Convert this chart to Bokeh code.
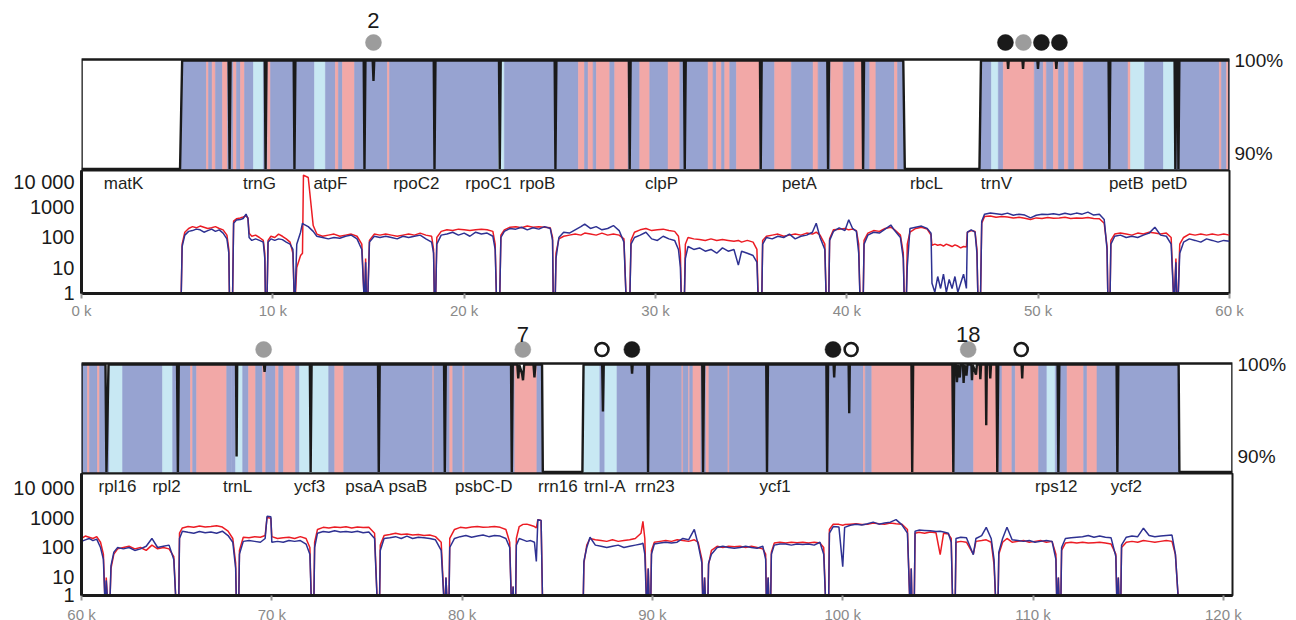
import numpy as np
from bokeh.plotting import figure
from bokeh.layouts import column
from bokeh.models import Range1d, FixedTicker, ColumnDataSource, CustomJSTickFormatter
from bokeh.embed import file_html
from bokeh.resources import INLINE
from bokeh.core.properties import value

FONT = "Liberation Sans"
KIND_COLOR = {"B": "#97a3d1", "L": "#c8e8f3", "P": "#f2a8a7"}
RED = "#ec1c24"
NAVY = "#2e3192"
INK = "#1a1a1a"
GREY_DOT = "#9c9c9c"

# ---------------- top row (0 - 60 kb) ----------------
top_genes = ["matK", "trnG", "atpF", "rpoC2", "rpoC1", "rpoB", "clpP", "petA", "rbcL", "trnV", "petB", "petD"]
top_gene_x = [2200, 9300, 13010, 17500, 21270, 23830, 30310, 37520, 44160, 47820, 54610, 56860]

top_dot_x = [15260, 48290, 49230, 50170, 51110]
top_dot_kind = ["gray", "black", "gray", "black", "black"]
top_count_x = [15260]
top_count_text = ["2"]

top_breaks = [5200, 6530, 6640, 6830, 7000, 7370, 7630, 7940, 8100, 8310, 8520, 8990, 9510, 9720, 9880,
              12180, 12750, 13270, 13430, 13640, 14270, 15990, 16100, 21790, 22100, 25970, 26290, 26480,
              26740, 26910, 27610, 27870, 28570, 29180, 29700, 30660, 31270, 32750, 33010, 33180, 33450,
              33620, 33880, 34230, 35450, 36230, 37100, 38240, 38500, 39160, 39810, 40410, 40850, 41200,
              41520, 42490, 42650, 47560, 47920, 48180, 49800, 50270, 50430, 50800, 51060, 51370, 51580,
              51890, 52360, 54700, 54830, 55560, 56550, 57120, 59470, 59580, 59840, 59950, 60000]
top_kinds = ["B", "P", "B", "P", "B", "P", "B", "P", "B", "P", "B", "L", "B", "P", "B",
             "L", "B", "P", "B", "P", "B", "P", "B", "L", "B", "P", "B", "P",
             "B", "P", "B", "P", "B", "P", "B", "P", "B", "P", "B", "P", "B",
             "P", "B", "P", "B", "P", "B", "P", "B", "P", "B", "P", "B", "P",
             "B", "P", "B", "L", "B", "P", "B", "P", "B", "P", "B", "P", "B",
             "P", "B", "P", "L", "B", "L", "B", "P", "B", "P", "B"]

top_ident_x = [0, 5150, 5260, 7690, 7740, 7790, 9580, 9620, 9670, 11090, 11130, 11180, 14750, 14790, 14840,
               15220, 15260, 15300, 18410, 18450, 18500, 21820, 21860, 21910, 24730, 24770, 24820,
               28610, 28650, 28700, 31490, 31530, 31580, 35460, 35500, 35550, 38980, 39020, 39070,
               40810, 40850, 40900, 42950, 43030, 46930, 47010, 48400, 48430, 48460, 49180, 49210, 49240,
               49960, 49990, 50020, 50920, 50950, 50980, 53680, 53720, 53770, 57130, 57170, 57220,
               57290, 57330, 57380, 60000]
top_ident_y = [0, 0, 100, 100, 0, 100, 100, 0, 100, 100, 0, 100, 100, 0, 100,
               100, 97.8, 100, 100, 0, 100, 100, 0, 100, 100, 0, 100,
               100, 0, 100, 100, 0, 100, 100, 0, 100, 100, 0, 100,
               100, 0, 100, 100, 0, 0, 100, 100, 99.1, 100, 100, 99.1, 100,
               100, 99.1, 100, 100, 99.1, 100, 100, 0, 100, 100, 0, 100,
               100, 0, 100, 100]

top_cov_x = [5200, 5260, 5400, 5600, 5800, 6000, 6200, 6400, 6600, 6800, 7000, 7200, 7400, 7600, 7700, 7740,
             7890, 7950, 8100, 8300, 8450, 8600, 8700, 8760, 8900, 9100, 9300, 9500, 9580, 9620,
             9690, 9750, 9900, 10100, 10300, 10500, 10700, 10900, 11050, 11130,
             11150, 11250, 11450, 11550, 11600, 11850, 12110, 12300, 12600, 12900, 13200, 13500, 13800, 14100, 14400, 14650, 14790, 14850, 14900,
             14950, 15050, 15300, 15600, 15900, 16200, 16500, 16800, 17100, 17400, 17700, 18000, 18300, 18400, 18450,
             18500, 18570, 18800, 19100, 19400, 19700, 20000, 20300, 20600, 20900, 21200, 21500, 21620, 21700,
             21850, 21920, 22100, 22400, 22700, 23000, 23300, 23600, 23900, 24200, 24500, 24620, 24660,
             24750, 24800, 24950, 25200, 25500, 25800, 26100, 26300, 26600, 26900, 27200, 27500, 27800, 28100, 28350, 28480,
             28650, 28720, 28900, 29200, 29500, 29800, 30100, 30400, 30700, 31000, 31200, 31300, 31360,
             31500, 31560, 31700, 32000, 32300, 32600, 32900, 33200, 33500, 33800, 34100, 34330, 34500, 34800, 35100, 35300, 35380,
             35550, 35600, 35800, 36100, 36400, 36700, 37000, 37300, 37600, 37900, 38200, 38400, 38600, 38850, 38930,
             39050, 39100, 39300, 39600, 39900, 40100, 40300, 40500, 40620, 40700,
             40850, 40900, 41100, 41400, 41700, 42000, 42300, 42500, 42800, 42950, 43010,
             43100, 43160, 43300, 43600, 43900, 44200, 44400, 44450, 44600, 44750, 44900, 45050, 45200, 45350, 45500, 45650, 45800, 45950, 46100, 46250, 46300, 46500, 46700, 46800, 46860,
             46980, 47050, 47200, 47500, 47800, 48100, 48400, 48700, 49000, 49300, 49600, 49900, 50200, 50500, 50800, 51100, 51400, 51700, 52000, 52300, 52600, 52900, 53200, 53450, 53600, 53650,
             53750, 53800, 54000, 54300, 54600, 54900, 55200, 55500, 55800, 56100, 56400, 56700, 56950, 57100, 57200, 57250,
             57300, 57400, 57600, 57900, 58200, 58500, 58800, 59100, 59400, 59700, 60000]
top_cov_red = [0.5, 60, 150, 200, 230, 210, 240, 220, 200, 210, 230, 200, 180, 120, 40, 0.5,
               0.5, 350, 420, 450, 480, 520, 450, 140, 110, 120, 100, 80, 30, 0.5,
               0.5, 80, 110, 100, 130, 110, 90, 70, 30, 0.5,
               0.5, 10, 25, 30, 12000, 10000, 250, 130, 110, 120, 130, 110, 120, 130, 110, 60, 0.5, 20, 0.5,
               0.5, 80, 130, 120, 130, 120, 110, 120, 130, 120, 140, 120, 110, 40, 0.5,
               0.5, 100, 160, 180, 170, 190, 180, 170, 180, 190, 180, 160, 60, 0.5,
               0.5, 120, 180, 220, 230, 210, 240, 220, 230, 220, 210, 100, 0.5,
               0.5, 30, 90, 110, 120, 130, 120, 140, 130, 120, 140, 120, 130, 120, 90, 0.5,
               0.5, 80, 150, 180, 200, 170, 180, 190, 170, 160, 110, 30, 0.5,
               0.5, 60, 100, 90, 85, 80, 90, 80, 85, 80, 75, 80, 70, 80, 70, 40, 0.5,
               0.5, 80, 110, 120, 130, 110, 120, 130, 120, 140, 130, 150, 120, 60, 0.5,
               0.5, 90, 180, 190, 200, 180, 190, 170, 60, 0.5,
               0.5, 80, 140, 170, 160, 200, 220, 180, 120, 30, 0.5,
               0.5, 60, 150, 200, 220, 190, 120, 55, 60, 55, 58, 52, 60, 55, 50, 57, 52, 45, 50, 48, 150, 170, 160, 40, 0.5,
               0.5, 300, 500, 520, 470, 500, 480, 450, 470, 440, 400, 450, 430, 460, 440, 450, 470, 430, 450, 440, 460, 430, 420, 300, 50, 0.5,
               0.5, 80, 130, 140, 130, 120, 140, 130, 150, 140, 130, 140, 100, 0.5, 20, 0.5,
               0.5, 60, 100, 130, 120, 130, 120, 130, 120, 130, 120]
top_cov_blue = [0.5, 50, 120, 160, 170, 190, 180, 150, 170, 190, 160, 180, 140, 90, 30, 0.5,
                0.5, 300, 380, 400, 430, 600, 420, 100, 80, 90, 80, 70, 20, 0.5,
                0.5, 70, 90, 80, 90, 85, 70, 60, 40, 0.5,
                0.5, 60, 150, 300, 280, 230, 160, 110, 100, 90, 100, 95, 110, 120, 90, 40, 0.5, 15, 0.5,
                0.5, 70, 110, 100, 110, 100, 90, 110, 100, 110, 120, 90, 70, 30, 0.5,
                0.5, 60, 120, 130, 150, 120, 140, 110, 150, 130, 140, 110, 40, 0.5,
                0.5, 100, 160, 200, 190, 220, 180, 210, 190, 230, 200, 80, 0.5,
                0.5, 20, 100, 150, 140, 180, 230, 280, 200, 230, 180, 200, 250, 170, 70, 0.5,
                0.5, 60, 100, 120, 150, 90, 80, 110, 90, 80, 40, 10, 0.5,
                0.5, 20, 50, 40, 45, 35, 40, 30, 45, 35, 40, 12, 35, 30, 25, 15, 0.5,
                0.5, 60, 100, 90, 110, 100, 130, 90, 110, 120, 150, 300, 100, 40, 0.5,
                0.5, 80, 160, 210, 170, 390, 200, 160, 30, 0.5,
                0.5, 60, 120, 150, 140, 190, 260, 170, 100, 20, 0.5,
                0.5, 11, 200, 220, 240, 200, 140, 3, 1.5, 5, 2, 6, 1.5, 4, 2, 5, 1.5, 3, 6, 2, 150, 180, 150, 30, 0.5,
                0.5, 350, 600, 650, 620, 580, 650, 550, 600, 560, 450, 550, 600, 580, 620, 570, 640, 580, 650, 600, 700, 560, 600, 400, 40, 0.5,
                0.5, 60, 110, 120, 100, 110, 100, 120, 140, 220, 120, 110, 60, 0.5, 15, 0.5,
                0.5, 30, 70, 90, 80, 70, 90, 80, 70, 80, 75]

# ---------------- bottom row (60 - 120 kb) ----------------
bot_genes = ["rpl16", "rpl2", "trnL", "ycf3", "psaA", "psaB", "psbC-D", "rrn16", "trnI-A", "rrn23", "ycf1", "rps12", "ycf2"]
bot_gene_x = [61890, 64470, 68200, 71990, 74880, 77150, 81140, 85030, 87500, 90130, 96440, 111220, 114900]

bot_dot_x = [69570, 83190, 87350, 88920, 99490, 100440, 106590, 109380]
bot_dot_kind = ["gray", "gray", "open", "black", "black", "open", "gray", "open"]
bot_count_x = [83190, 106590]
bot_count_text = ["7", "18"]

bot_breaks = [60000, 60316, 60420, 60840, 60950, 61470, 62160, 64260, 64790, 65730, 65840, 66050, 67630,
              67890, 68100, 68470, 68780, 69150, 69520, 69680, 70200, 70360, 70620, 71250, 71460, 72990,
              73310, 73780, 78460, 78520, 79350, 79510, 80040, 80120, 82770, 83930, 86350, 87240, 87500,
              88140, 91550, 91610, 91900, 91960, 92130, 92550, 92820, 92970, 93970, 94030, 101090, 101180,
              101530, 105850, 106880, 108190, 108370, 108890, 109070, 110290, 110730, 111170, 111790,
              112660, 112840, 113360, 117690]
bot_kinds = ["B", "P", "B", "P", "B", "L", "B", "L", "B", "P", "B", "P", "B",
             "B", "L", "B", "P", "B", "P", "B", "P", "B", "P", "B", "L", "B",
             "P", "B", "P", "B", "P", "B", "P", "B", "P", "B", "L", "B", "L",
             "B", "P", "B", "P", "B", "P", "B", "P", "B", "P", "B", "P", "B",
             "P", "B", "P", "B", "P", "B", "P", "B", "L", "B", "P",
             "B", "P", "B"]

bot_ident_x = [60000, 61260, 61310, 61420, 65020, 65065, 65110, 68120, 68150, 68180, 69590, 69620, 69650,
               72000, 72040, 72090, 75580, 75620, 75670, 79050, 79090, 79140, 82570, 82610, 82660,
               82900, 82950, 83000, 83150, 83200, 83260, 83750, 83800, 83850, 84200, 84240, 86320, 86380,
               87360, 87400, 87440, 88900, 88930, 88960, 89730, 89770, 89820, 92620, 92660, 92710,
               95980, 96020, 96070, 99140, 99180, 99230, 99520, 99550, 99580, 100310, 100340, 100370,
               103610, 103650, 103700, 105760, 105810, 105860, 105950, 106000, 106060, 106150, 106200,
               106320, 106350, 106400, 106500, 106550, 106760, 106790, 106830, 107000, 107050, 107200,
               107230, 107270, 107510, 107540, 107570, 107720, 107750, 107790, 108080, 108120, 108170,
               109400, 109430, 109460, 111290, 111330, 111380, 114390, 114430, 114480, 117650, 117690, 120480]
bot_ident_y = [100, 100, 0, 100, 100, 0, 100, 100, 90, 100, 100, 99.2, 100,
               100, 0, 100, 100, 0, 100, 100, 0, 100, 100, 0, 100,
               100, 98.5, 100, 99.0, 98.3, 100, 100, 98.6, 100, 100, 0, 0, 100,
               100, 94.9, 100, 100, 99.0, 100, 100, 0, 100, 100, 0, 100,
               100, 0, 100, 100, 0, 100, 100, 98.6, 100, 100, 94.7, 100,
               100, 0, 100, 100, 0, 100, 100, 98.1, 100, 98.6, 100,
               100, 98.0, 100, 98.8, 100, 100, 98.3, 100, 98.9, 100, 100,
               98.4, 100, 100, 93.4, 100, 100, 98.5, 100, 100, 0, 100,
               100, 98.5, 100, 100, 0, 100, 100, 0, 100, 100, 0, 0]

bot_cov_x = [60000, 60200, 60400, 60600, 60800, 61000, 61150, 61260, 61300, 61420,
             61470, 61550, 61700, 61900, 62200, 62500, 62800, 63100, 63400, 63700, 64000, 64300, 64600, 64850, 65000,
             65100, 65150, 65300, 65600, 65900, 66200, 66500, 66800, 67100, 67400, 67700, 67950, 68100, 68150,
             68250, 68300, 68500, 68800, 69100, 69400, 69650, 69750, 69950, 70000, 70300, 70600, 70900, 71200, 71500, 71800, 72000, 72100,
             72200, 72250, 72400, 72700, 73000, 73300, 73600, 73900, 74200, 74500, 74800, 75100, 75400, 75570,
             75650, 75700, 75900, 76200, 76500, 76800, 77100, 77400, 77700, 78000, 78300, 78600, 78900, 79090, 79150, 79250,
             79300, 79350, 79600, 79900, 80200, 80500, 80800, 81100, 81400, 81700, 82000, 82300, 82500, 82610, 82680, 82720,
             82800, 82850, 83000, 83200, 83400, 83600, 83800, 83900, 83980, 84150, 84240,
             86350, 86400, 86550, 86720, 87000, 87300, 87600, 87900, 88200, 88500, 88800, 89100, 89400, 89500, 89600, 89710, 89780, 89850,
             89900, 89950, 90100, 90400, 90700, 91000, 91300, 91600, 91900, 92200, 92400, 92600, 92660, 92740, 92820,
             92900, 92950, 93100, 93400, 93700, 94000, 94300, 94600, 94900, 95200, 95500, 95800, 95950, 96000, 96080, 96150,
             96200, 96250, 96400, 96700, 97000, 97300, 97600, 97900, 98200, 98500, 98800, 99000, 99130,
             99250, 99300, 99500, 99800, 100000, 100100, 100400, 100700, 101000, 101300, 101600, 101900, 102200, 102500, 102800, 103100, 103400, 103550, 103600, 103650,
             103750, 103800, 104000, 104300, 104600, 104900, 105120, 105300, 105550, 105700, 105790,
             105900, 105950, 106200, 106500, 106860, 107000, 107300, 107540, 107800, 107950, 108070,
             108150, 108200, 108400, 108630, 108900, 109200, 109500, 109800, 110100, 110400, 110700, 111000, 111200, 111260, 111330, 111400,
             111450, 111500, 111700, 112000, 112300, 112600, 112900, 113200, 113500, 113800, 114100, 114350, 114420, 114480, 114550,
             114600, 114650, 114900, 115200, 115500, 115800, 116100, 116400, 116700, 117000, 117300, 117480, 117690]
bot_cov_red = [200, 240, 220, 200, 230, 150, 60, 0.5, 10, 0.5,
               0.5, 20, 60, 90, 100, 110, 90, 100, 80, 120, 90, 100, 90, 50, 0.5,
               0.5, 300, 450, 500, 470, 520, 480, 500, 530, 480, 350, 200, 30, 0.5,
               0.5, 80, 220, 210, 230, 220, 250, 1000, 950, 230, 200, 210, 220, 200, 230, 200, 100, 0.5,
               0.5, 150, 400, 470, 450, 480, 460, 490, 450, 480, 460, 470, 300, 0.5,
               0.5, 120, 250, 270, 300, 270, 280, 260, 270, 250, 260, 230, 150, 0.5, 10, 0.5,
               0.5, 200, 400, 470, 450, 480, 500, 470, 480, 500, 470, 400, 150, 0.5, 5, 0.5,
               0.5, 200, 500, 590, 600, 550, 500, 450, 850, 800, 0.5,
               0.5, 30, 120, 200, 180, 170, 160, 180, 160, 170, 180, 200, 300, 740, 200, 0.5, 20, 0.5,
               0.5, 80, 150, 160, 170, 160, 180, 170, 160, 180, 150, 40, 0.5, 10, 0.5,
               0.5, 27, 80, 110, 100, 110, 105, 110, 100, 110, 100, 90, 60, 0.5, 10, 0.5,
               0.5, 70, 140, 150, 140, 150, 145, 150, 140, 150, 140, 100, 0.5,
               0.5, 400, 600, 590, 550, 580, 600, 620, 580, 600, 650, 620, 600, 650, 620, 600, 400, 0.5, 20, 0.5,
               0.5, 300, 320, 300, 330, 310, 58, 300, 280, 200, 0.5,
               0.5, 150, 160, 150, 60, 160, 170, 180, 150, 27, 0.5,
               0.5, 60, 150, 200, 150, 160, 170, 150, 160, 170, 150, 160, 60, 0.5, 10, 0.5,
               0.5, 80, 140, 150, 140, 150, 140, 145, 150, 140, 130, 60, 0.5, 10, 0.5,
               0.5, 100, 150, 160, 150, 170, 160, 150, 160, 170, 160, 58, 0.5]
bot_cov_blue = [160, 180, 200, 170, 190, 100, 40, 0.5, 8, 0.5,
                0.5, 25, 70, 100, 90, 100, 80, 90, 110, 200, 100, 110, 120, 40, 0.5,
                0.5, 200, 350, 320, 300, 340, 310, 330, 300, 350, 250, 150, 20, 0.5,
                0.5, 60, 160, 170, 160, 150, 200, 1100, 1050, 150, 160, 150, 170, 160, 170, 130, 60, 0.5,
                0.5, 100, 300, 340, 320, 360, 330, 340, 320, 350, 310, 330, 200, 0.5,
                0.5, 80, 200, 210, 230, 200, 240, 200, 220, 210, 200, 180, 80, 0.5, 10, 0.5,
                0.5, 100, 200, 230, 250, 220, 240, 260, 230, 250, 240, 200, 100, 0.5, 5, 0.5,
                0.5, 120, 200, 180, 160, 170, 150, 34, 850, 800, 0.5,
                0.5, 35, 100, 220, 120, 110, 100, 110, 120, 100, 110, 120, 130, 140, 60, 0.5, 20, 0.5,
                0.5, 60, 130, 140, 150, 140, 150, 200, 180, 400, 130, 30, 0.5, 10, 0.5,
                0.5, 30, 60, 100, 110, 100, 95, 100, 110, 100, 95, 110, 40, 0.5, 10, 0.5,
                0.5, 60, 120, 130, 130, 120, 130, 125, 130, 120, 150, 60, 0.5,
                0.5, 300, 500, 480, 23, 470, 550, 600, 560, 620, 700, 600, 650, 700, 850, 580, 300, 0.5, 20, 0.5,
                0.5, 350, 380, 370, 360, 340, 350, 330, 300, 150, 0.5,
                0.5, 200, 220, 210, 58, 200, 250, 470, 200, 40, 0.5,
                0.5, 70, 200, 470, 180, 170, 160, 170, 150, 160, 170, 160, 40, 0.5, 10, 0.5,
                0.5, 100, 200, 210, 220, 230, 250, 220, 240, 220, 210, 50, 0.5, 10, 0.5,
                0.5, 120, 220, 240, 230, 440, 250, 230, 240, 250, 260, 60, 0.5]

x_ticks_top = [0, 10000, 20000, 30000, 40000, 50000, 60000]
x_ticks_bot = [60000, 70000, 80000, 90000, 100000, 110000, 120000]
cov_ticks = [10, 100, 1000, 10000]
ident_ticks = [90, 100]
IDENT_LO = 88.15
IDENT_HI = 100.12


def identity(xr, left, right, fw, box_h, head_h, breaks, kinds, ix, iy,
             dot_x, dot_kind, dot_px, cnt_x, cnt_text, cnt_px):
    """Identity box (bottom box_h px of the frame) with the marker row above it."""
    unit = (IDENT_HI - IDENT_LO) / box_h
    top = IDENT_LO + (box_h + head_h) * unit
    p = figure(frame_width=fw, frame_height=box_h + head_h, x_range=xr,
               y_range=Range1d(IDENT_LO, top),
               x_axis_location=None, y_axis_location="right", output_backend="svg",
               toolbar_location=None, min_border_left=left, min_border_right=right,
               min_border_top=0, min_border_bottom=0)
    p.grid.visible = False
    p.outline_line_color = None
    cols = [KIND_COLOR[k] for k in kinds]
    p.quad(left=breaks[:-1], right=breaks[1:], bottom=IDENT_LO - 1, top=IDENT_HI,
           fill_color=cols, line_color=cols, line_width=0.6)
    iy_draw = np.maximum(np.array(iy, dtype=float), IDENT_LO + 0.17)
    px = list(ix) + [ix[-1], ix[0]]
    py = list(iy_draw) + [IDENT_HI, IDENT_HI]
    p.patch(px, py, fill_color="white", line_color=None)
    p.line(ix, iy_draw, line_color=INK, line_width=2.4)
    p.quad(left=[xr.start], right=[xr.end], bottom=[IDENT_LO], top=[IDENT_HI],
           fill_color=None, line_color=INK, line_width=2.6)
    # marker row
    fill = {"black": INK, "gray": GREY_DOT, "open": "white"}
    line = {"black": INK, "gray": GREY_DOT, "open": INK}
    dy = IDENT_HI + dot_px * unit
    src = ColumnDataSource(dict(
        x=dot_x, y=[dy] * len(dot_x),
        f=[fill[k] for k in dot_kind], l=[line[k] for k in dot_kind],
        w=[2.6 if k == "open" else 0.5 for k in dot_kind],
        s=[13 if k == "open" else 16 for k in dot_kind]))
    p.scatter("x", "y", size="s", fill_color="f", line_color="l", line_width="w", source=src)
    cy = IDENT_HI + cnt_px * unit
    p.text(x=cnt_x, y=[cy] * len(cnt_x), text=cnt_text, text_align="center",
           text_baseline="middle", text_font=value(FONT), text_font_size="22px", text_color=INK)
    ax = p.yaxis[0]
    ax.ticker = FixedTicker(ticks=ident_ticks)
    ax.formatter = CustomJSTickFormatter(code="return Math.round(tick) + '%';")
    ax.axis_line_color = None
    ax.major_tick_out = 0
    ax.major_tick_in = 0
    ax.minor_tick_line_color = None
    ax.major_label_standoff = 5
    ax.major_label_text_font = FONT
    ax.major_label_text_font_size = "19px"
    ax.major_label_text_color = INK
    return p


def coverage(xr, left, right, fw, fh, ylo, yhi, cx, cr, cb, gx, gnames, gy, xticks,
             standoff, border_bottom):
    p = figure(frame_width=fw, frame_height=fh, x_range=xr, y_range=Range1d(ylo, yhi),
               y_axis_type="log", output_backend="svg", toolbar_location=None,
               min_border_left=left, min_border_right=right, min_border_top=0,
               min_border_bottom=border_bottom)
    p.grid.visible = False
    p.outline_line_color = INK
    p.outline_line_width = 2
    p.line(cx, cr, line_color=RED, line_width=1.5)
    p.line(cx, cb, line_color=NAVY, line_width=1.5)
    p.text(x=gx, y=[gy] * len(gx), text=gnames, text_align="center", text_baseline="middle",
           text_font=value(FONT), text_font_size="17px", text_color="#231f20")
    ya = p.yaxis[0]
    # the bottom edge of the coverage axis stands for a depth of 1
    ya.ticker = FixedTicker(ticks=[ylo * 1.003] + cov_ticks)
    ya.formatter = CustomJSTickFormatter(
        code="var t = Math.round(tick); if (tick < 5) { return '1'; } "
             "return t >= 10000 ? '10 000' : String(t);")
    ya.axis_line_color = INK
    ya.axis_line_width = 3
    ya.major_tick_out = 0
    ya.major_tick_in = 0
    ya.minor_tick_line_color = None
    ya.major_label_standoff = 7
    ya.major_label_text_font = FONT
    ya.major_label_text_font_size = "20px"
    ya.major_label_text_color = INK
    xa = p.xaxis[0]
    xa.ticker = FixedTicker(ticks=xticks)
    xa.formatter = CustomJSTickFormatter(code="return Math.round(tick / 1000) + ' k';")
    xa.axis_line_color = INK
    xa.axis_line_width = 3
    xa.major_tick_out = 5
    xa.major_tick_in = 0
    xa.major_tick_line_color = "#9a9a9a"
    xa.major_tick_line_width = 2
    xa.minor_tick_line_color = None
    xa.major_label_standoff = standoff
    xa.major_label_text_font = FONT
    xa.major_label_text_font_size = "15px"
    xa.major_label_text_color = "#8a8a8a"
    return p


xr_top = Range1d(0, 60000)
xr_bot = Range1d(60000, 120480)

i1 = identity(xr_top, 80, 60, 1148, 111, 59, top_breaks, top_kinds, top_ident_x, top_ident_y,
              top_dot_x, top_dot_kind, 17, top_count_x, top_count_text, 39)
c1 = coverage(xr_top, 80, 60, 1148, 123, 1.36, 17100, top_cov_x, top_cov_red, top_cov_blue,
              top_gene_x, top_genes, 6310, x_ticks_top, 3, 24)
i2 = identity(xr_bot, 81, 56, 1151, 110, 42, bot_breaks, bot_kinds, bot_ident_x, bot_ident_y,
              bot_dot_x, bot_dot_kind, 14, bot_count_x, bot_count_text, 29)
c2 = coverage(xr_bot, 81, 56, 1151, 122, 2.51, 29300, bot_cov_x, bot_cov_red, bot_cov_blue,
              bot_gene_x, bot_genes, 10800, x_ticks_bot, 5, 26)

layout = column(i1, c1, i2, c2)
open("out.html", "w").write(file_html(layout, INLINE))
